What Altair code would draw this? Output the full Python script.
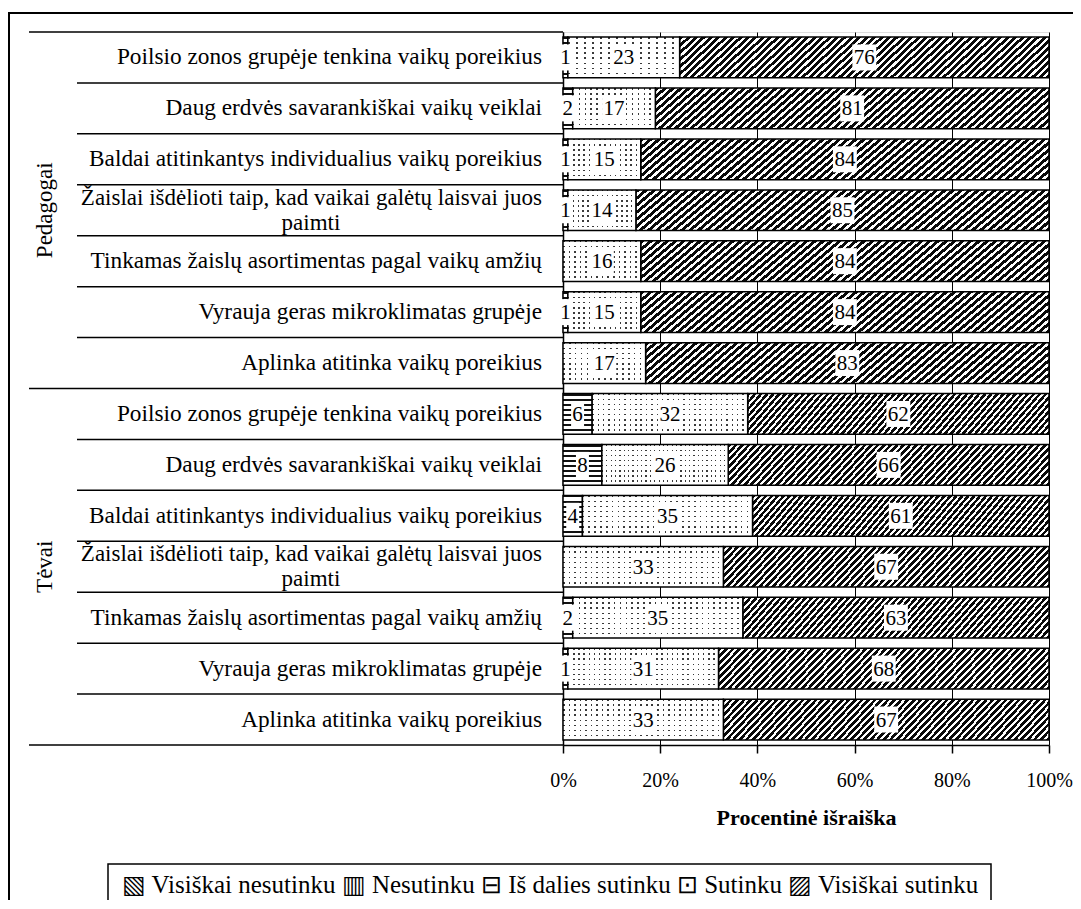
import altair as alt
import pandas as pd

# ---------------- data ----------------
groups = ["Pedagogai", "Tėvai"]
items = [
    "Poilsio zonos grupėje tenkina vaikų poreikius",
    "Daug erdvės savarankiškai vaikų veiklai",
    "Baldai atitinkantys individualius vaikų poreikius",
    "Žaislai išdėlioti taip, kad vaikai galėtų laisvai juos~paimti",
    "Tinkamas žaislų asortimentas pagal vaikų amžių",
    "Vyrauja geras mikroklimatas grupėje",
    "Aplinka atitinka vaikų poreikius",
]
categories = ["Visiškai nesutinku", "Nesutinku", "Iš dalies sutinku", "Sutinku", "Visiškai sutinku"]
legend_symbols = ["▧", "▥", "⊟", "⊡", "▨"]

ped_visiskai_nesutinku = [0, 0, 0, 0, 0, 0, 0]
ped_nesutinku = [0, 0, 0, 0, 0, 0, 0]
ped_is_dalies = [1, 2, 1, 1, 0, 1, 0]
ped_sutinku = [23, 17, 15, 14, 16, 15, 17]
ped_visiskai_sutinku = [76, 81, 84, 85, 84, 84, 83]

tev_visiskai_nesutinku = [0, 0, 0, 0, 0, 0, 0]
tev_nesutinku = [0, 0, 0, 0, 0, 0, 0]
tev_is_dalies = [6, 8, 4, 0, 2, 1, 0]
tev_sutinku = [32, 26, 35, 33, 35, 31, 33]
tev_visiskai_sutinku = [62, 66, 61, 67, 63, 68, 67]

x_ticks = [0, 20, 40, 60, 80, 100]
x_title = "Procentinė išraiška"

series = {
    "Pedagogai": [ped_visiskai_nesutinku, ped_nesutinku, ped_is_dalies, ped_sutinku, ped_visiskai_sutinku],
    "Tėvai": [tev_visiskai_nesutinku, tev_nesutinku, tev_is_dalies, tev_sutinku, tev_visiskai_sutinku],
}

# ---------------- table ----------------
FONT = "Liberation Serif"

rows = []
rowinfo = []
keys = []
for g in groups:
    for ii, item in enumerate(items):
        key = g + "|" + item
        keys.append(key)
        parts = item.split("~")
        rowinfo.append({"key": key, "pos": ii, "group": g, "line1": parts[0],
                        "line2": parts[1] if len(parts) > 1 else "", "two": len(parts) > 1})
        cum = 0
        for ci, cat in enumerate(categories):
            v = series[g][ci][ii]
            rows.append(dict(group=g, key=key, pos=ii, cat=cat, value=v,
                             start=cum, end=cum + v, mid=cum + v / 2))
            cum += v
df = pd.DataFrame(rows)
df = df[df["value"] > 0]
rowdf = pd.DataFrame(rowinfo)

yscale = alt.Scale(paddingInner=0.2, paddingOuter=0.1)
yaxis = alt.Axis(labels=False, ticks=False, domainColor="black", domainWidth=1.5, title=None)


def Y(bp=None):
    kw = {}
    if bp is not None:
        kw["bandPosition"] = bp
    return alt.Y("key:N", sort=keys, scale=yscale, axis=yaxis, title=None, **kw)


xscale = alt.Scale(domain=[0, 100], nice=False)
xaxis = alt.Axis(values=x_ticks, labelExpr="datum.value + '%'", grid=True, labelFlush=False,
                 gridColor="black", gridWidth=1, domainColor="black",
                 domainWidth=1.5, tickColor="black", tickSize=8, tickWidth=1.5,
                 labelFontSize=20, labelPadding=17, labelColor="black",
                 titleFontSize=22, titleFontWeight="bold", titlePadding=17,
                 titleColor="black", labelFont=FONT, titleFont=FONT)


def X(field):
    return alt.X(field, scale=xscale, axis=xaxis, title=x_title)


# ---------------- patterns (gradients) ----------------
def stripes(n, frac, dark, light, x2, y2):
    stops = []
    for i in range(n):
        a = round(i / n, 6)
        b = round((i + frac) / n, 6)
        c = round((i + 1) / n, 6)
        stops += [{"offset": a, "color": dark}, {"offset": b, "color": dark},
                  {"offset": b, "color": light}, {"offset": c, "color": light}]
    return {"gradient": "linear", "x1": 0, "y1": 0, "x2": x2, "y2": y2, "stops": stops}


hatch = stripes(58, 0.55, "#0a0a0a", "#ffffff", 1.15, 0.134)
hstripes = stripes(8, 0.4, "#111111", "#ffffff", 0, 1)
dot_rows = stripes(8, 0.3, "#3a3a3a", "#ffffff", 0, 1)
dot_cols_p = stripes(14, 0.28, "rgba(255,255,255,0)", "#ffffff", 1, 0)
dot_cols_t = stripes(29, 0.28, "rgba(255,255,255,0)", "#ffffff", 1, 0)

base = alt.Chart(df)

# ---------------- layers ----------------
one = alt.Data(values=[{"a": 1}])
GAP = 5.09  # half of the inner band gap

frame_top = alt.Chart(one).mark_rule(color="black", strokeWidth=2).encode(
    x=alt.value(-555), x2=alt.value(530), y=alt.value(-19))
frame_left = alt.Chart(one).mark_rule(color="black", strokeWidth=2).encode(
    x=alt.value(-554), y=alt.value(-19), y2=alt.value(900))

short_lines = alt.Chart(rowdf).transform_filter("datum.pos > 0").mark_rule(
    color="black", strokeWidth=1.5, yOffset=-GAP).encode(y=Y(0), x=alt.value(-486), x2=alt.value(0))
long_lines = alt.Chart(rowdf).transform_filter("datum.pos == 0").mark_rule(
    color="black", strokeWidth=1.5, yOffset=-GAP).encode(y=Y(0), x=alt.value(-534), x2=alt.value(0))
bottom_line = alt.Chart(rowdf).transform_filter(
    "datum.pos == 6 && datum.group == 'Tėvai'").mark_rule(
    color="black", strokeWidth=1.5, yOffset=GAP).encode(y=Y(1), x=alt.value(-534), x2=alt.value(0))

bars_hatch = base.transform_filter(alt.datum.cat == "Visiškai sutinku").mark_bar(
    fill=hatch, stroke="black", strokeWidth=1.5).encode(
    x=X("start:Q"), x2="end:Q", y=Y())
bars_hs = base.transform_filter(alt.datum.cat == "Iš dalies sutinku").mark_bar(
    fill=hstripes, stroke="black", strokeWidth=1.5).encode(
    x=X("start:Q"), x2="end:Q", y=Y())
bars_dot_rows = base.transform_filter(alt.datum.cat == "Sutinku").mark_bar(
    fill=dot_rows, strokeWidth=0).encode(
    x=X("start:Q"), x2="end:Q", y=Y())
bars_dot_cols_p = base.transform_filter(
    (alt.datum.cat == "Sutinku") & (alt.datum.group == "Pedagogai")).mark_bar(
    fill=dot_cols_p, stroke="black", strokeWidth=1.5).encode(
    x=X("start:Q"), x2="end:Q", y=Y())
bars_dot_cols_t = base.transform_filter(
    (alt.datum.cat == "Sutinku") & (alt.datum.group == "Tėvai")).mark_bar(
    fill=dot_cols_t, stroke="black", strokeWidth=1.5).encode(
    x=X("start:Q"), x2="end:Q", y=Y())

box1 = base.transform_filter("datum.value < 10").mark_point(
    shape="M-0.5,-1L0.5,-1L0.5,1L-0.5,1Z", filled=True, fill="white", opacity=1,
    strokeWidth=0, size=676).encode(x=X("mid:Q"), y=Y())
box2 = base.transform_filter("datum.value >= 10").mark_point(
    shape="M-0.92,-1L0.92,-1L0.92,1L-0.92,1Z", filled=True, fill="white", opacity=1,
    strokeWidth=0, size=676).encode(x=X("mid:Q"), y=Y())
labels = base.mark_text(font=FONT, fontSize=21, color="black", baseline="middle",
                        align="center", dy=1).encode(
    x=X("mid:Q"), y=Y(), text="value:Q")

# category (row) labels
rows_base = alt.Chart(rowdf)
ylab_single = rows_base.transform_filter("!datum.two").mark_text(
    font=FONT, fontSize=23.3, color="black", align="right", baseline="middle").encode(
    y=Y(), x=alt.value(-21), text="line1:N")
ylab_two_a = rows_base.transform_filter("datum.two").mark_text(
    font=FONT, fontSize=23, color="black", align="right", baseline="middle", dy=-12.5).encode(
    y=Y(), x=alt.value(-21), text="line1:N")
ylab_two_b = rows_base.transform_filter("datum.two").mark_text(
    font=FONT, fontSize=23, color="black", align="center", baseline="middle", dy=12.5).encode(
    y=Y(), x=alt.value(-252), text="line2:N")

gl_df = pd.DataFrame({"group": groups, "key": [keys[3], keys[10]]})
group_labels = alt.Chart(gl_df).mark_text(font=FONT, fontSize=23, color="black", angle=270,
                                          baseline="middle", align="center").encode(
    y=Y(), x=alt.value(-518), text="group:N")

legend_text = " ".join(s + " " + c for s, c in zip(legend_symbols, categories))
legend_box = alt.Chart(one).mark_rect(fill="white", stroke="black", strokeWidth=1.5).encode(
    x=alt.value(-455), x2=alt.value(428), y=alt.value(832), y2=alt.value(876))
legend = alt.Chart(one).mark_text(font=FONT, fontSize=25, color="black", baseline="middle",
                                  align="center").encode(
    x=alt.value(-13), y=alt.value(853), text=alt.value(legend_text))

chart = alt.layer(
    frame_top, frame_left, short_lines, long_lines, bottom_line,
    bars_hatch, bars_hs, bars_dot_rows, bars_dot_cols_p, bars_dot_cols_t,
    box1, box2, labels, ylab_single, ylab_two_a, ylab_two_b, group_labels,
    legend_box, legend,
).properties(
    width=486, height=713,
    autosize=alt.AutoSizeParams(type="none"),
    padding={"left": 555, "top": 24, "right": 24, "bottom": 155},
).configure_view(stroke=None).configure(background="white", font=FONT).configure_axis(
    labelFont=FONT, titleFont=FONT)

chart.save("out.html", embed_options={"renderer": "svg", "actions": False})
